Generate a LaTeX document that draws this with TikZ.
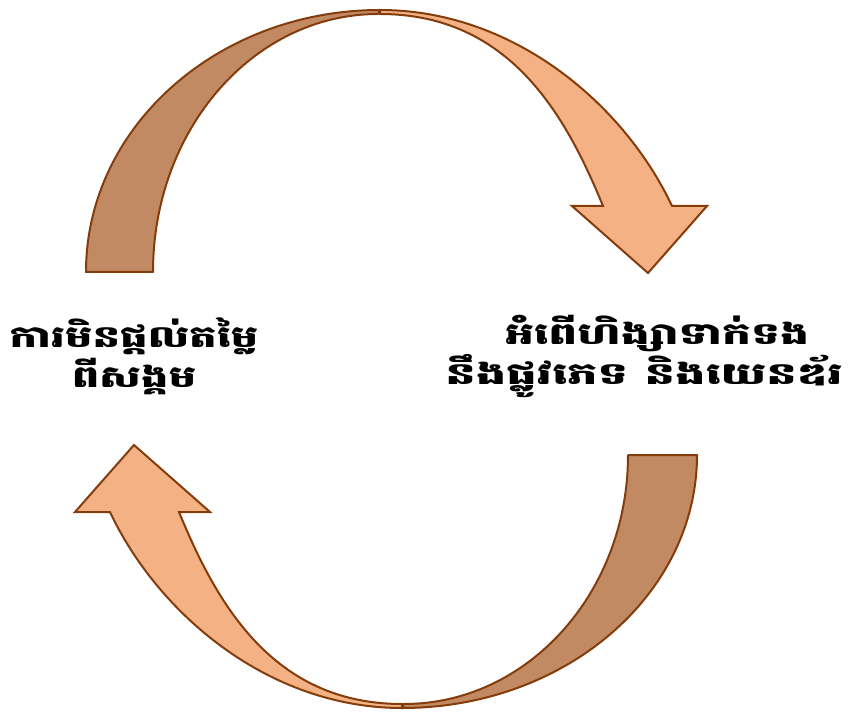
\documentclass[tikz,border=0pt]{standalone}
\usepackage{fontspec}
\usepackage{graphicx}
\newfontfamily\khmer[Script=Khmer]{Battambang}
\definecolor{lightfill}{HTML}{F4B183}
\definecolor{darkfill}{HTML}{C28A62}
\definecolor{edge}{HTML}{843C0C}
\tikzset{
  back/.style={fill=darkfill, draw=edge, line width=2pt, line join=round},
  front/.style={fill=lightfill, draw=edge, line width=2pt, line join=miter},
  label/.style={align=center, font=\khmer\bfseries\fontsize{30}{40}\selectfont, inner sep=0pt}
}
\begin{document}
\begin{tikzpicture}[x=1pt,y=-1pt]
\useasboundingbox (0,0) rectangle (849,714);
% top arrow: back part
\path[back] (86,272) .. controls (86,127.3) and (217.6,10) .. (380,10)
  -- (378,14) .. controls (253.7,14) and (153,129.5) .. (153,272) -- cycle;
% top arrow: front part
\path[front] (380,10) .. controls (515,10) and (625,106) .. (672,206)
  -- (707,206) -- (648,273) -- (572,206) -- (603,206)
  .. controls (566,116) and (510,14) .. (380,14) -- cycle;
% bottom arrow: back part
\path[back] (697,455) .. controls (697,594.7) and (565,708) .. (402,708)
  -- (404,704) .. controls (527.7,704) and (628,592.5) .. (628,455) -- cycle;
% bottom arrow: front part
\path[front] (402,708) .. controls (267,708) and (157,612) .. (110,512)
  -- (75,512) -- (134,445) -- (210,512) -- (179,512)
  .. controls (216,602) and (272,704) .. (402,704) -- cycle;
% labels
\node[label] (lt) at (134,356) {\scalebox{1.45}[1]{ការមិនផ្តល់តម្លៃ}\\\scalebox{1.45}[1]{ពីសង្គម}};
\node[label] (rt) at (644,356) {\hspace*{26pt}\scalebox{1.52}[1]{អំពើហិង្សាទាក់ទង}\\\scalebox{1.6}[1]{នឹងផ្លូវភេទ និងយេនឌ័រ}};
\end{tikzpicture}
\end{document}
